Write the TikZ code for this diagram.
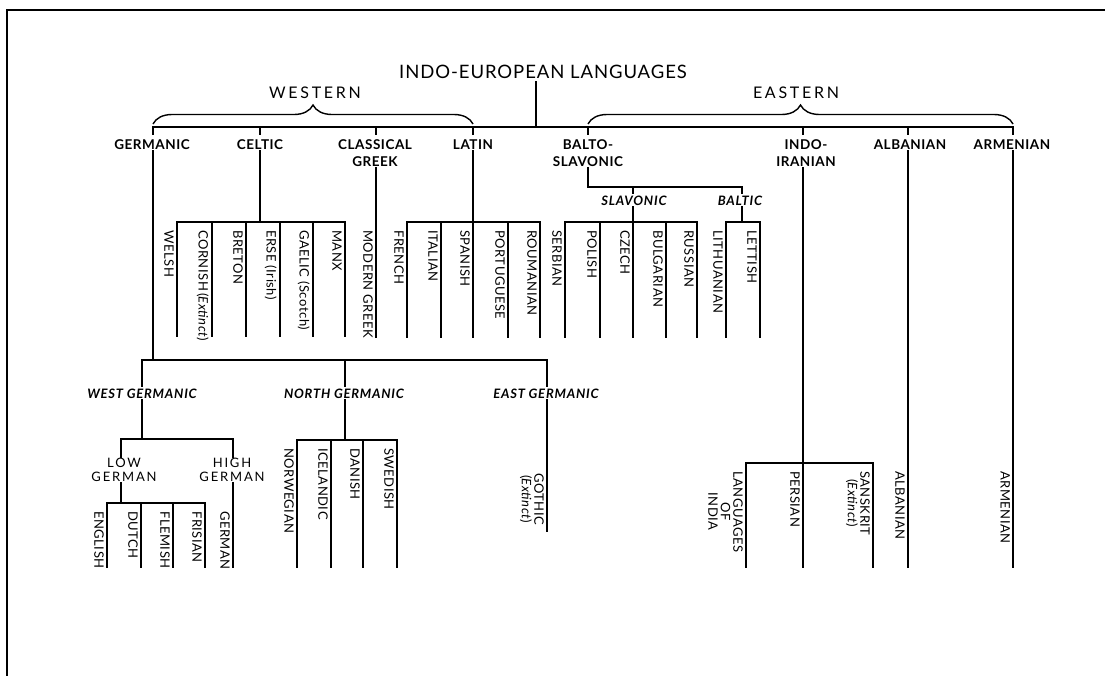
\documentclass[tikz,border=0pt]{standalone}
\usepackage{fontspec}
\setmainfont{Lato}
\newfontfamily\wordfont[LetterSpace=4]{Lato}
\newfontfamily\groupfont[LetterSpace=6]{Lato}
\newfontfamily\widefont[LetterSpace=17]{Lato}
\newfontfamily\midfont[LetterSpace=14]{Lato}
\newfontfamily\titlefont[LetterSpace=5]{Lato}
\usetikzlibrary{positioning, decorations.pathreplacing}

\tikzset{
	branch/.style={line width=1.8pt, line cap=rect},
	family/.style={font=\wordfont\bfseries\fontsize{13.5}{17}\selectfont, align=center, inner sep=1pt},
	group/.style={font=\groupfont\bfseries\itshape\fontsize{13}{15}\selectfont, inner sep=1pt},
	division/.style={font=\widefont\fontsize{16}{18}\selectfont, inner sep=1pt},
	dialect/.style={font=\midfont\fontsize{13}{14}\selectfont, align=center, inner sep=1pt},
	tongue/.style={font=\wordfont\fontsize{13}{12.5}\selectfont, rotate=-90, anchor=north west, align=center, inner sep=1pt},
	bracket/.style={line width=1.4pt, decorate, decoration={brace, amplitude=19pt}}
}

\begin{document}
\begin{tikzpicture}[x=1pt, y=-1pt]
	\useasboundingbox (0,0) rectangle (1105,675);
	\draw[line width=2pt] (7,676) -- (7,10) -- (1106,10);

	\node (ie) [font=\titlefont\fontsize{18.5}{20}\selectfont] at (543,72) {INDO-EUROPEAN LANGUAGES};
	\node (western) [division] at (315,93) {WESTERN};
	\node (eastern) [division] at (796,93) {EASTERN};

	\node (germanic) [family] at (152,145) {GERMANIC};
	\node (celtic) [family] at (260,145) {CELTIC};
	\node (classical) [family] at (375,153.5) {CLASSICAL\\GREEK};
	\node (latin) [family] at (473,145) {LATIN};
	\node (balto) [family] at (588,153.5) {BALTO-\\SLAVONIC};
	\node (indoiran) [family] at (806,153.5) {INDO-\\IRANIAN};
	\node (albanian) [family] at (910,145) {ALBANIAN};
	\node (armenian) [family] at (1012,145) {ARMENIAN};

	\coordinate (ie-j) at (536,127);
	\foreach \n/\x in {germanic/153, celtic/260, classical/376, latin/473, balto/588, indoiran/803, albanian/908, armenian/1013}
	{
		\coordinate (\n-j) at (\x,127);
		\draw[branch, shorten >=5pt] (\n-j) -- (\n.north -| \n-j);
	}
	\draw[branch] (ie.south -| ie-j) -- (ie-j);
	\draw[branch] (germanic-j) -- (armenian-j);
	\draw[bracket] ([yshift=3pt]germanic-j) -- ([yshift=3pt]latin-j);
	\draw[bracket] ([yshift=3pt]balto-j) -- ([yshift=3pt]armenian-j);

	\foreach \n/\x/\b/\e/\t in {
		welsh/177/222/336/WELSH,
		cornish/212/222/336/{CORNISH\,(\textit{Extinct})},
		breton/246/222/336/BRETON,
		erse/280/222/336/{ERSE (Irish)},
		gaelic/313/222/336/{GAELIC (Scotch)},
		manx/345/222/336/MANX,
		moderngreek/376/222/337/{MODERN GREEK},
		french/407/222/337/FRENCH,
		italian/441/222/337/ITALIAN,
		spanish/473/222/337/SPANISH,
		portuguese/508/222/337/PORTUGUESE,
		roumanian/540/222/337/ROUMANIAN,
		serbian/565/222/337/SERBIAN,
		polish/600/222/337/POLISH,
		czech/633/222/337/CZECH,
		bulgarian/666/222/337/BULGARIAN,
		russian/697/222/337/RUSSIAN,
		lithuanian/726/222/337/LITHUANIAN,
		lettish/760/222/337/LETTISH,
		english/107/503/567/ENGLISH,
		dutch/141/503/567/DUTCH,
		flemish/173/503/567/FLEMISH,
		frisian/205/503/567/FRISIAN,
		german/233/503/567/GERMAN,
		norwegian/297/440/567/NORWEGIAN,
		icelandic/331/440/567/ICELANDIC,
		danish/363/440/567/DANISH,
		swedish/397/440/567/SWEDISH,
		gothic/547/465/531/{GOTHIC\\(\textit{Extinct})},
		india/746/463/567/{LANGUAGES\\OF\\INDIA},
		persian/803/463/567/PERSIAN,
		sanskrit/873/463/567/{SANSKRIT\\(\textit{Extinct})},
		albanianlang/908/463/567/ALBANIAN,
		armenianlang/1013/463/567/ARMENIAN}
	{
		\coordinate (\n-top) at (\x,\b);
		\coordinate (\n-end) at (\x,\e);
		\draw[branch] (\n-top) -- (\n-end);
		\node (\n) [tongue] at (\x-2,\b+7) {\t};
	}

	\draw[branch] (welsh-top) -- (manx-top);
	\draw[branch] (french-top) -- (roumanian-top);
	\draw[branch] (serbian-top) -- (russian-top);
	\draw[branch] (lithuanian-top) -- (lettish-top);
	\draw[branch] (english-top) -- (frisian-top);
	\draw[branch] (norwegian-top) -- (swedish-top);
	\draw[branch] (india-top) -- (sanskrit-top);

	\draw[branch] (celtic.south -| celtic-j) -- (celtic-j |- welsh-top);
	\draw[branch] (classical.south -| classical-j) -- (moderngreek-top);
	\draw[branch] (latin.south -| latin-j) -- (spanish-top);

	\node (slavonic) [group] at (634,201) {SLAVONIC};
	\node (baltic) [group] at (740,201) {BALTIC};
	\coordinate (balto-k) at (588,187);
	\coordinate (baltic-k) at (742,187);
	\draw[branch] (balto.south -| balto-j) -- (balto-k) -- (baltic-k);
	\draw[branch, shorten >=2pt] (balto-k -| czech-top) -- (slavonic.north -| czech-top);
	\draw[branch, shorten >=2pt] (baltic-k) -- (baltic.north -| baltic-k);
	\draw[branch] (slavonic.south -| czech-top) -- (czech-top);
	\draw[branch] (baltic.south -| baltic-k) -- (baltic-k |- lettish-top);

	\draw[branch] (indoiran.south -| indoiran-j) -- (persian-top);
	\draw[branch] (albanian.south -| albanian-j) -- (albanianlang-top);
	\draw[branch] (armenian.south -| armenian-j) -- (armenianlang-top);

	\node (westgerm) [group] at (142,394) {WEST GERMANIC};
	\node (northgerm) [group] at (344,394) {NORTH GERMANIC};
	\node (eastgerm) [group] at (546,394) {EAST GERMANIC};
	\coordinate (west-j) at (142,360);
	\coordinate (north-j) at (345,360);
	\coordinate (east-j) at (547,360);
	\draw[branch] (germanic.south -| germanic-j) -- (germanic-j |- west-j);
	\draw[branch] (west-j) -- (east-j);
	\draw[branch, shorten >=2pt] (west-j) -- (westgerm.north -| west-j);
	\draw[branch, shorten >=2pt] (north-j) -- (northgerm.north -| north-j);
	\draw[branch, shorten >=2pt] (east-j) -- (eastgerm.north -| east-j);

	\node (lowgerman) [dialect] at (124,470) {LOW\\GERMAN};
	\node (highgerman) [dialect] at (232,470) {HIGH\\GERMAN};
	\coordinate (low-j) at (121,439);
	\coordinate (high-j) at (233,439);
	\draw[branch] (westgerm.south -| west-j) -- (west-j |- low-j);
	\draw[branch] (low-j) -- (high-j);
	\draw[branch] (low-j) -- (lowgerman.north -| low-j);
	\draw[branch] (high-j) -- (highgerman.north -| high-j);
	\draw[branch] (lowgerman.south -| low-j) -- (low-j |- english-top);
	\draw[branch] (highgerman.south -| high-j) -- (german-top);
	\draw[branch] (northgerm.south -| north-j) -- (north-j |- norwegian-top);
	\draw[branch] (eastgerm.south -| east-j) -- (gothic-top);
\end{tikzpicture}
\end{document}
